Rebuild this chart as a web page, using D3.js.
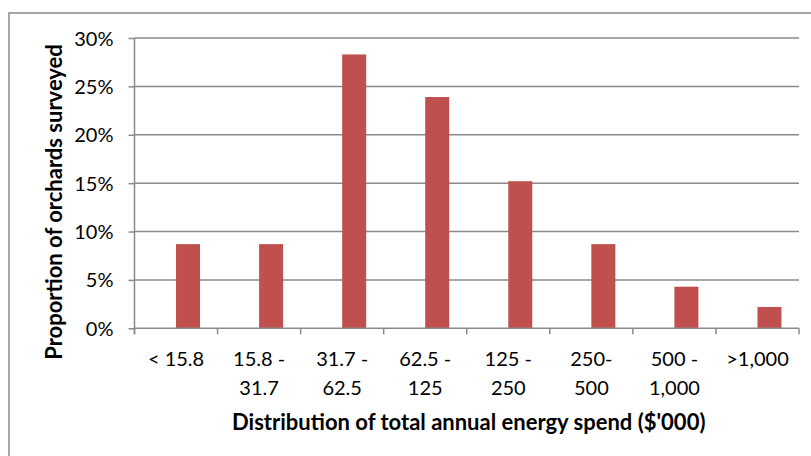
<!DOCTYPE html>
<html>
<head>
<meta charset="utf-8">
<script src="https://cdn.jsdelivr.net/npm/d3@7"></script>
<style>
  html, body { margin: 0; padding: 0; background: #ffffff; }
  svg { display: block; }
  text { font-family: Lato, "Liberation Sans", sans-serif; fill: #000; }
</style>
</head>
<body>
<svg id="chart" width="811" height="456"></svg>
<script>
// Spend bands ($'000) and the share of orchards in each band
const categories = ["< 15.8", "15.8 - 31.7", "31.7 - 62.5", "62.5 - 125", "125 - 250", "250-500", "500 - 1,000", ">1,000"];
const categoryLines = [["< 15.8"], ["15.8 -", "31.7"], ["31.7 -", "62.5"], ["62.5 -", "125"], ["125 -", "250"], ["250-", "500"], ["500 -", "1,000"], [">1,000"]];
const shareValues = [8.7, 8.7, 28.3, 23.9, 15.2, 8.7, 4.3, 2.2];
// The workbook had an empty first series, so each bar sits in the second slot
const seriesSlots = ["(blank)", "Share of orchards"];
const yTicks = [0, 5, 10, 15, 20, 25, 30];

const svg = d3.select("#chart");
const W = 811, H = 456;
const plot = { left: 134.5, right: 799, top: 38, bottom: 328.3 };

// Outer chart frame (runs past the right and bottom edge of the view)
svg.append("rect")
  .attr("x", 9).attr("y", 13)
  .attr("width", W + 20).attr("height", H + 20)
  .attr("fill", "none").attr("stroke", "#8a8a8a").attr("stroke-width", 1.5);

const x = d3.scaleBand().domain(categories).range([plot.left, plot.right]).paddingInner(0).paddingOuter(0);
const slot = d3.scaleBand().domain(seriesSlots).range([0, x.bandwidth()]).paddingInner(0).paddingOuter(0.73);
const y = d3.scaleLinear().domain([0, 30]).range([plot.bottom, plot.top]);

// Horizontal gridlines
svg.append("g").selectAll("line").data(yTicks.filter(t => t > 0)).join("line")
  .attr("x1", plot.left).attr("x2", plot.right)
  .attr("y1", d => y(d)).attr("y2", d => y(d))
  .attr("stroke", "#8a8a8a").attr("stroke-width", 1.5);

// Bars
svg.append("g").selectAll("rect").data(shareValues).join("rect")
  .attr("x", (d, i) => x(categories[i]) + slot(seriesSlots[1]))
  .attr("width", slot.bandwidth())
  .attr("y", d => y(d))
  .attr("height", d => y(0) - y(d))
  .attr("fill", "#c0504d");

// Y axis
const yAxis = d3.axisLeft(y).tickValues(yTicks).tickSize(6).tickPadding(15).tickFormat(d => d + "%");
const gy = svg.append("g").attr("transform", `translate(${plot.left},0)`).call(yAxis);
gy.select(".domain").remove();
gy.append("line").attr("x1", 0).attr("x2", 0).attr("y1", plot.top).attr("y2", plot.bottom + 6)
  .attr("stroke", "#8a8a8a").attr("stroke-width", 1.5);
gy.selectAll(".tick line").attr("stroke", "#8a8a8a").attr("stroke-width", 1.5);
gy.selectAll(".tick text").attr("font-size", 20).attr("fill", "#000").attr("dy", "0.35em");

// X axis: tick marks on category boundaries, labels centred in each band
const gx = svg.append("g").attr("transform", `translate(0,${plot.bottom})`);
gx.append("line").attr("x1", plot.left).attr("x2", plot.right).attr("y1", 0).attr("y2", 0)
  .attr("stroke", "#8a8a8a").attr("stroke-width", 1.5);
const boundaries = categories.map(c => x(c)).concat([plot.right]);
gx.selectAll("line.tk").data(boundaries).join("line").attr("class", "tk")
  .attr("x1", d => d).attr("x2", d => d).attr("y1", 0).attr("y2", 6)
  .attr("stroke", "#8a8a8a").attr("stroke-width", 1.5);
const lbl = gx.selectAll("text.cat").data(categories).join("text").attr("class", "cat")
  .attr("text-anchor", "middle").attr("font-size", 20)
  .attr("transform", d => `translate(${x(d) + x.bandwidth() / 2},38)`);
lbl.selectAll("tspan").data((d, i) => categoryLines[i]).join("tspan")
  .attr("x", 0).attr("y", (d, j) => j * 28.5).text(d => d);

// Axis titles
svg.append("text").attr("x", (plot.left + plot.right) / 2 + 2).attr("y", 430)
  .attr("text-anchor", "middle").attr("font-size", 22).attr("font-weight", "bold")
  .text("Distribution of total annual energy spend ($'000)");
svg.append("text").attr("transform", "translate(62,202) rotate(-90)")
  .attr("text-anchor", "middle").attr("font-size", 22).attr("font-weight", "bold")
  .text("Proportion of orchards surveyed");
</script>
</body>
</html>
